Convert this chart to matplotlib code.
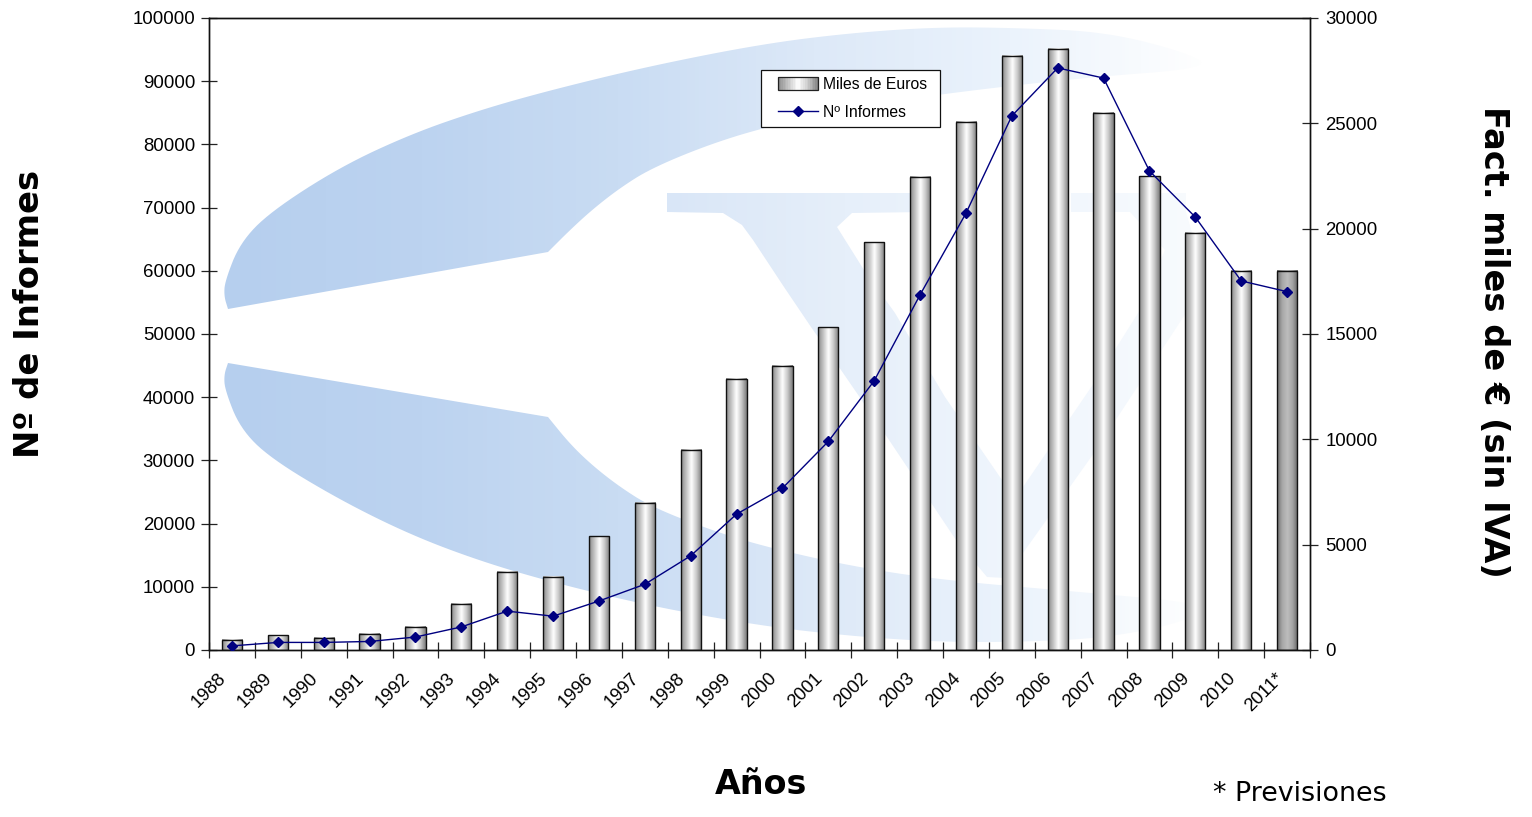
import numpy as np
import matplotlib
matplotlib.use('Agg')
import matplotlib.pyplot as plt
from matplotlib.colors import LinearSegmentedColormap
from matplotlib.legend_handler import HandlerBase, HandlerLine2D
from matplotlib.lines import Line2D
from matplotlib.patches import PathPatch, Patch, Rectangle
from matplotlib.path import Path

W, H = 1532, 817
AX_L, AX_R, AX_T, AX_B = 209, 1310, 18, 650

years = ['1988', '1989', '1990', '1991', '1992', '1993', '1994', '1995',
         '1996', '1997', '1998', '1999', '2000', '2001', '2002', '2003',
         '2004', '2005', '2006', '2007', '2008', '2009', '2010', '2011*']
miles_euros = [480, 690, 570, 780, 1110, 2190, 3720, 3480, 5400, 6990, 9510,
               12870, 13500, 15330, 19350, 22470, 25080, 28200, 28530, 25500,
               22500, 19800, 18000, 18000]
n_informes = [650, 1200, 1200, 1350, 2050, 3650, 6150, 5350, 7750, 10400,
              14900, 21500, 25600, 33000, 42600, 56200, 69100, 84500, 92100,
              90500, 75800, 68500, 58400, 56700]
left_ticks = list(range(0, 100001, 10000))
right_ticks = list(range(0, 30001, 5000))

# watermark logo outlines, in picture pixels; curves run from the inner
# corner round to the left tip and get rounded in smooth()
SWOOSH_TOP = [(548, 252), (570, 230), (593, 209),
              (620, 188), (650, 169), (705, 146), (762, 128), (850, 108),
              (941, 94), (1080, 78), (1212, 68), (1185, 52), (1106, 32),
              (1020, 28), (938, 27), (850, 33), (762, 44), (650, 66),
              (551, 90), (480, 110), (411, 134), (340, 167), (270, 212),
              (240, 243), (225, 281), (224, 296), (228, 309)]
SWOOSH_BOT = [(548, 417), (570, 444), (593, 466),
              (620, 487), (650, 506), (705, 528), (762, 546), (850, 566),
              (941, 580), (1080, 592), (1212, 604), (1185, 622), (1106, 638),
              (1020, 642), (938, 642), (850, 636), (762, 626), (650, 606),
              (551, 582), (480, 561), (411, 535), (340, 500), (270, 458),
              (240, 428), (225, 390), (224, 375), (228, 363)]
LOGO_V = [(667, 193), (925, 193), (925, 212), (852, 213), (837, 227), (864, 270),
          (895, 313), (945, 397), (1002, 480), (1023, 487), (1094, 383),
          (1140, 310), (1165, 250), (1130, 212), (1071, 212), (1071, 193),
          (1186, 193), (1186, 212), (1200, 260), (1186, 313), (1140, 383),
          (1094, 453), (1023, 553), (1005, 578), (987, 577), (956, 540),
          (887, 437), (841, 370), (811, 327), (784, 287), (753, 240),
          (742, 225), (723, 213), (667, 212)]

SWOOSH_COLORS = ['#b6cfee', '#bcd3f0', '#c9dcf3', '#dde9f8', '#ebf3fc', '#ffffff']
V_COLORS = ['#d9e6f7', '#e6effa', '#f0f6fd', '#f8fbfe']

BAR_CMAP = LinearSegmentedColormap.from_list(
    'bar', ['#8a8a8a', '#c4c4c4', '#ffffff', '#c8c8c8', '#7c7c7c'])
FORECAST_CMAP = LinearSegmentedColormap.from_list(
    'forecast', ['#6e6e6e', '#a8a8a8', '#bdbdbd', '#a4a4a4', '#666666'])
GRAD = np.linspace(0, 1, 64).reshape(1, -1)

plt.rcParams['font.family'] = ['Liberation Sans', 'DejaVu Sans']


def smooth(pts, passes=3):
    # Chaikin corner cutting, end points stay put
    pts = np.asarray(pts, dtype=float)
    for _ in range(passes):
        q = 0.75 * pts[:-1] + 0.25 * pts[1:]
        r = 0.25 * pts[:-1] + 0.75 * pts[1:]
        mid = np.empty((2 * len(q), 2))
        mid[0::2] = q
        mid[1::2] = r
        pts = np.vstack([pts[0], mid, pts[-1]])
    return [tuple(p) for p in pts]


def closed_path(pts):
    codes = [Path.MOVETO] + [Path.LINETO] * (len(pts) - 1) + [Path.CLOSEPOLY]
    return Path(list(pts) + [pts[0]], codes)


def draw_logo(bg):
    cm = LinearSegmentedColormap.from_list('sw', SWOOSH_COLORS)
    im = bg.imshow(np.linspace(0, 1, 256).reshape(1, -1), cmap=cm, aspect='auto',
                   extent=(224, 1212, H, 0), interpolation='bilinear')
    path = Path.make_compound_path(closed_path(smooth(SWOOSH_TOP)),
                                   closed_path(smooth(SWOOSH_BOT)))
    im.set_clip_path(PathPatch(path, transform=bg.transData))

    cm = LinearSegmentedColormap.from_list('v', V_COLORS)
    im = bg.imshow(np.linspace(0, 1, 256).reshape(1, -1), cmap=cm, aspect='auto',
                   extent=(667, 1200, H, 0), interpolation='bilinear')
    im.set_clip_path(PathPatch(closed_path(LOGO_V), transform=bg.transData))
    bg.set_xlim(0, W)
    bg.set_ylim(H, 0)


class GradientHandler(HandlerBase):
    """Legend key for the shaded bars: thin strips plus an outline."""

    def create_artists(self, legend, orig, xd, yd, width, height, fontsize, trans):
        out = []
        n = 24
        for i in range(n):
            out.append(Rectangle((-xd + width * i / n, -yd - 1), width / n + 0.3,
                                 height + 2, facecolor=BAR_CMAP((i + 0.5) / n),
                                 edgecolor='none', transform=trans))
        out.append(Rectangle((-xd, -yd - 1), width, height + 2, facecolor='none',
                             edgecolor='#222222', lw=0.9, transform=trans))
        return out


fig = plt.figure(figsize=(W / 100, H / 100), dpi=100, facecolor='white')

bg = fig.add_axes([0, 0, 1, 1], zorder=-1)
bg.axis('off')
draw_logo(bg)

ax2 = fig.add_axes([AX_L / W, 1 - AX_B / H, (AX_R - AX_L) / W, (AX_B - AX_T) / H],
                   zorder=1)
ax = fig.add_axes(ax2.get_position(), zorder=2, sharex=ax2)
ax.patch.set_visible(False)
ax2.patch.set_visible(False)

# bars on the right-hand axis, shaded by an image inside each one
x = np.arange(len(years))
bars = ax2.bar(x, miles_euros, width=0.44, facecolor='none', edgecolor='#111111',
               linewidth=1.0, zorder=3)
for i, b in enumerate(bars):
    cmap = FORECAST_CMAP if years[i].endswith('*') else BAR_CMAP
    ax2.imshow(GRAD, cmap=cmap, aspect='auto', zorder=2, interpolation='bilinear',
               extent=(b.get_x(), b.get_x() + b.get_width(), 0, b.get_height()))

# line on the left-hand axis
ax.plot(x, n_informes, color='#000080', lw=1.0, marker='D', ms=5.2,
        mec='#000080', mfc='#000080', zorder=4)

ax.set_xlim(-0.5, len(years) - 0.5)
ax.set_ylim(0, 100000)
ax2.set_ylim(0, 30000)
ax2.set_xlim(-0.5, len(years) - 0.5)

ax.set_yticks(left_ticks)
ax.yaxis.tick_left()
ax2.yaxis.tick_right()
ax2.set_yticks(right_ticks)
ax.tick_params(axis='y', direction='inout', length=12, width=0.9, labelsize=13.4,
               pad=4, color='#222222')
ax2.tick_params(axis='y', direction='inout', length=12, width=0.9, labelsize=13.4,
                pad=5, color='#222222')

# year labels sit on the category boundaries, as in the original chart
ax.set_xticks(x - 0.5)
ax.set_xticklabels(years, rotation=45, ha='center', va='top', fontsize=13.3)
ax.tick_params(axis='x', direction='inout', length=11, width=0.9, pad=9,
               color='#222222')
ax2.tick_params(axis='x', bottom=False, labelbottom=False)
ax.plot([1], [0], transform=ax.transAxes, marker='|', ms=11, mew=0.9,
        color='#222222', clip_on=False)

for a in (ax, ax2):
    for side in ('top', 'left', 'right', 'bottom'):
        a.spines[side].set_linewidth(1.0)
        a.spines[side].set_color('#111111')

handles = [Patch(label='Miles de Euros'),
           Line2D([], [], color='#000080', lw=1.0, marker='D', ms=5.2,
                  label='Nº Informes')]
leg = ax.legend(handles=handles, loc='upper left', mode='expand',
                bbox_to_anchor=(761 / W, 1 - 128 / H, 179 / W, 58 / H),
                bbox_transform=fig.transFigure,
                handler_map={Patch: GradientHandler(xpad=0.63),
                             Line2D: HandlerLine2D(xpad=0.63)},
                fontsize=11.3, frameon=True, fancybox=False, framealpha=1,
                edgecolor='#111111', borderaxespad=0, borderpad=0.45,
                labelspacing=0.8, handlelength=3.2, handletextpad=0.3)
leg.get_frame().set_linewidth(0.9)
leg.set_zorder(10)

title_font = ['DejaVu Sans']
fig.text(30 / W, 1 - 314 / H, 'Nº de Informes', rotation=90, ha='center', va='center',
         fontsize=24.4, fontweight='bold', family=title_font)
fig.text(1493 / W, 1 - 342 / H, 'Fact. miles de € (sin IVA)', rotation=270, ha='center',
         va='center', fontsize=24.2, fontweight='bold', family=title_font)
fig.text(761 / W, 1 - 784.5 / H, 'Años', ha='center', va='center', fontsize=24,
         fontweight='bold', family=title_font)
fig.text(1300 / W, 1 - 794 / H, '* Previsiones', ha='center', va='center', fontsize=19.4,
         family=title_font)

fig.savefig('out.png', dpi=100)
